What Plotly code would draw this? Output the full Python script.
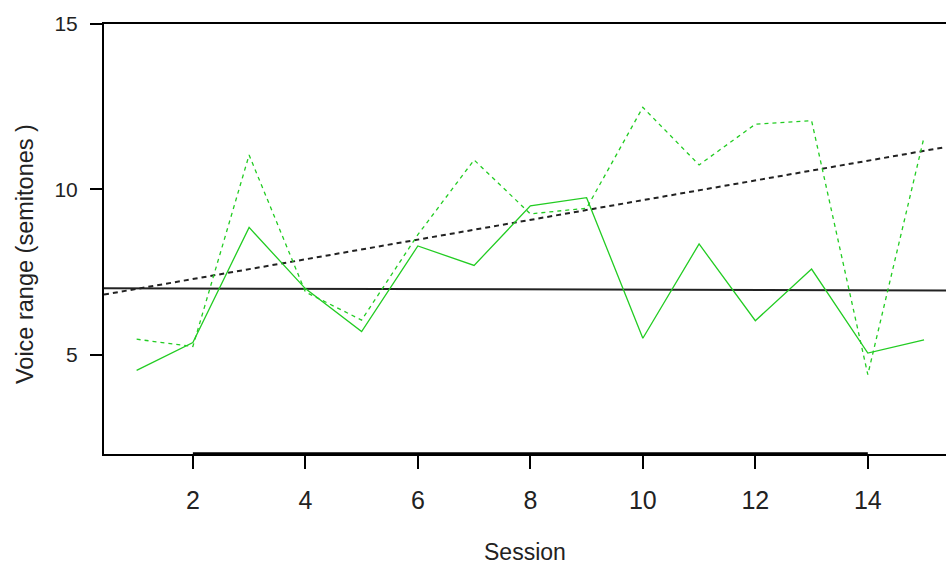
import numpy as np
import plotly.graph_objects as go

sessions = list(range(1, 16))
range_solid = [4.53, 5.37, 8.85, 7.00, 5.70, 8.29, 7.70, 9.50, 9.75, 5.50, 8.35, 6.03, 7.59, 5.05, 5.45]
range_dashed = [5.47, 5.25, 11.04, 6.90, 6.05, 8.63, 10.89, 9.26, 9.43, 12.48, 10.74, 11.97, 12.08, 4.40, 11.58]
x_ticks = [2, 4, 6, 8, 10, 12, 14]
y_ticks = [5, 10, 15]
x_title = "Session"
y_title = "Voice range (semitones )"

X_RANGE = [0.42, 15.39]
Y_RANGE = [2, 15]
GREEN = "#22cc22"
FONT = "Liberation Sans, Arial, sans-serif"

fig = go.Figure()

# regression lines (abline style across whole plot)
xs = np.array(X_RANGE)
for ys, dash, w in [(range_solid, "solid", 2), (range_dashed, "5px,4px", 2)]:
    b, a = np.polyfit(sessions, ys, 1)
    fig.add_trace(go.Scatter(x=xs, y=a + b * xs, mode="lines",
                             line=dict(color="#222222", width=w, dash=dash),
                             showlegend=False, hoverinfo="skip"))

fig.add_trace(go.Scatter(x=sessions, y=range_solid, mode="lines",
                         line=dict(color=GREEN, width=1.3), showlegend=False))
fig.add_trace(go.Scatter(x=sessions, y=range_dashed, mode="lines",
                         line=dict(color=GREEN, width=1.3, dash="4px,4px"), showlegend=False))

# thick bottom axis segment between first and last tick
fig.add_shape(type="line", xref="x", yref="paper", x0=x_ticks[0], x1=x_ticks[-1], y0=0, y1=0,
              line=dict(color="black", width=3.5))

fig.update_layout(
    width=946, height=566,
    margin=dict(l=104, r=0, t=24, b=112),
    paper_bgcolor="white", plot_bgcolor="white",
    font=dict(family=FONT, color="#222222"),
    xaxis=dict(range=X_RANGE, tickvals=x_ticks, ticktext=[str(v) for v in x_ticks],
               showgrid=False, zeroline=False, showline=True, mirror=True,
               linecolor="black", linewidth=1.5, ticks="outside", ticklen=13,
               tickcolor="black", tickwidth=1.5, tickfont=dict(size=25, family=FONT),
               ticklabelstandoff=10),
    yaxis=dict(range=Y_RANGE, tickvals=y_ticks, ticktext=[str(v) for v in y_ticks],
               showgrid=False, zeroline=False, showline=True,
               linecolor="black", linewidth=2, ticks="outside", ticklen=12,
               tickcolor="black", tickwidth=1.5, tickfont=dict(size=21, family=FONT),
               ticklabelstandoff=8),
    annotations=[
        dict(text=x_title, xref="paper", yref="paper", x=0.5, y=0, yshift=-98,
             showarrow=False, font=dict(size=23, family=FONT), xanchor="center", yanchor="middle"),
        dict(text=y_title, xref="paper", yref="paper", x=0, xshift=-79, y=0.465,
             showarrow=False, textangle=-90, font=dict(size=23.5, family=FONT),
             xanchor="center", yanchor="middle"),
    ],
)

fig.write_html("out.html", config={"displayModeBar": False},
               post_script="document.body.style.margin='0';document.body.style.overflow='hidden';")
